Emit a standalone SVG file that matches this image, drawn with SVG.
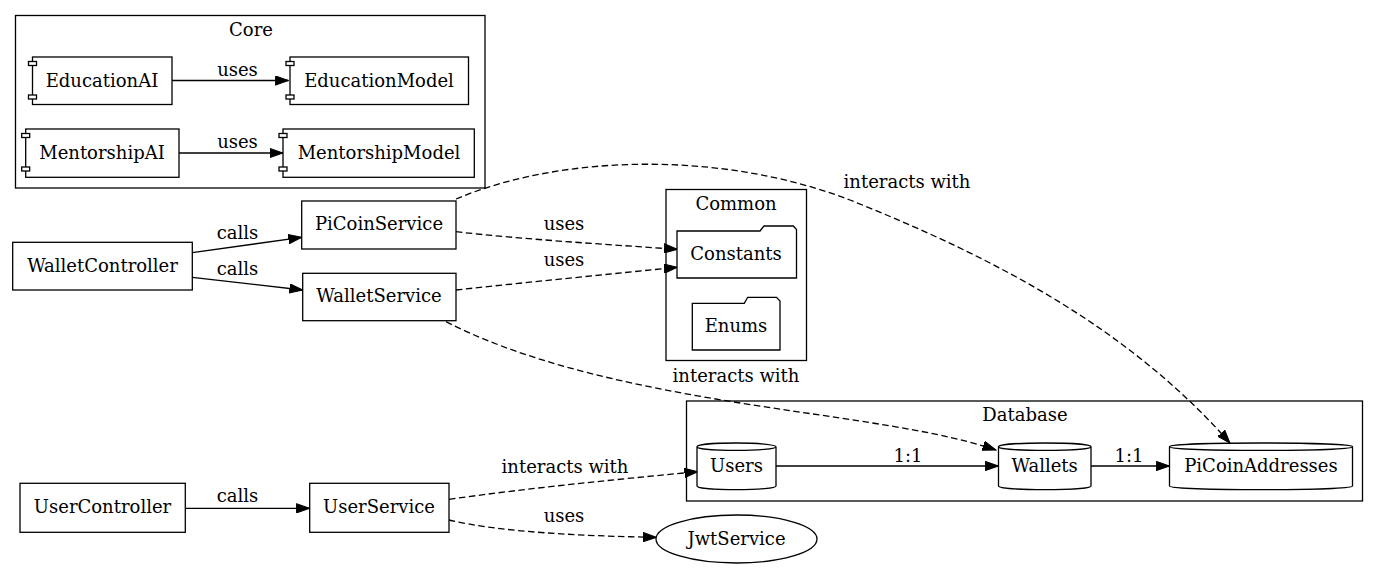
<svg xmlns="http://www.w3.org/2000/svg" width="1379" height="568" viewBox="0 0 1379 568">
<style>
text{font-family:"DejaVu Serif","Liberation Serif",serif;font-size:18px;fill:#000;text-anchor:middle}
.n{fill:#fff;stroke:#000;stroke-width:1.3}
.cl{fill:none;stroke:#000;stroke-width:1.3}
.e{fill:none;stroke:#000;stroke-width:1.3;marker-end:url(#ah)}
.d{stroke-dasharray:6.5,3.5}
</style>
<defs>
<marker id="ah" markerWidth="14" markerHeight="10" refX="13.3" refY="5" orient="auto" markerUnits="userSpaceOnUse">
<path d="M0,0.33 L13.3,5 L0,9.67 Z" fill="#000" stroke="#000" stroke-width="1" stroke-dasharray="none"/>
</marker>
</defs>
<rect width="1379" height="568" fill="#fff"/>

<g id="cluster-core">
<rect class="cl" x="15.5" y="15.5" width="469.5" height="172.5"/>
<text x="251" y="35.5">Core</text>
</g>
<g id="cluster-common">
<rect class="cl" x="666" y="189.5" width="140.5" height="171"/>
<text x="736" y="209.5">Common</text>
</g>
<g id="cluster-database">
<rect class="cl" x="686.5" y="401" width="676" height="100"/>
<text x="1025" y="421">Database</text>
</g>

<g id="connectors">
<path class="e" d="M172,80.5 L288.5,80.5"/>
<text x="237.5" y="76">uses</text>
<path class="e" d="M179,153 L283,153"/>
<text x="237.5" y="148">uses</text>
<path class="e" d="M192.3,252.7 L301.7,237.3"/>
<text x="237.5" y="239">calls</text>
<path class="e" d="M192.3,277.3 L302.7,290"/>
<text x="237.5" y="275">calls</text>
<path class="e" d="M185.3,508.3 L309.7,508.3"/>
<text x="237.5" y="502">calls</text>
<path class="e d" d="M456,231.7 C520,239 600,244 677.3,249.3"/>
<text x="564" y="230">uses</text>
<path class="e d" d="M456,290 C530,282 610,274 677.3,267.3"/>
<text x="564" y="266">uses</text>
<path class="e d" d="M456,199 C560,155 720,150 850,200 C1000,260 1130,330 1230,443"/>
<text x="907" y="188">interacts with</text>
<path class="e d" d="M446,321.7 C560,380 720,400 840,418 C920,430 960,438 996,450"/>
<text x="736" y="382">interacts with</text>
<path class="e d" d="M449,499.3 C530,488 610,480 697.7,471.7"/>
<text x="565" y="473">interacts with</text>
<path class="e d" d="M449,520 C500,532 580,536 656.4,537.3"/>
<text x="564" y="522">uses</text>
<path class="e" d="M776,466 L998.5,466"/>
<text x="908" y="462">1:1</text>
<path class="e" d="M1091,466 L1169.5,466"/>
<text x="1129" y="462">1:1</text>
</g>

<g id="node-EducationAI">
<rect class="n" x="32.5" y="57" width="139.5" height="47.5"/>
<rect class="n" x="28.5" y="61.5" width="8" height="4"/>
<rect class="n" x="28.5" y="95" width="8" height="4"/>
<text x="102" y="86.5">EducationAI</text>
</g>
<g id="node-EducationModel">
<rect class="n" x="290" y="57" width="178.5" height="47.5"/>
<rect class="n" x="286" y="61.5" width="8" height="4"/>
<rect class="n" x="286" y="95" width="8" height="4"/>
<text x="379" y="86.5">EducationModel</text>
</g>
<g id="node-MentorshipAI">
<rect class="n" x="25.7" y="129" width="153.3" height="48.3"/>
<rect class="n" x="21.7" y="133.5" width="8" height="4"/>
<rect class="n" x="21.7" y="167" width="8" height="4"/>
<text x="102" y="159">MentorshipAI</text>
</g>
<g id="node-MentorshipModel">
<rect class="n" x="283" y="129" width="191.3" height="48.3"/>
<rect class="n" x="279" y="133.5" width="8" height="4"/>
<rect class="n" x="279" y="167" width="8" height="4"/>
<text x="379" y="159">MentorshipModel</text>
</g>

<g id="node-Constants">
<path class="n" d="M677,231 L760,231 L764,226 L793.3,226 L796.5,229.5 L796.5,278 L677,278 Z"/>
<text x="736" y="260">Constants</text>
</g>
<g id="node-Enums">
<path class="n" d="M692.3,303.3 L744.3,303.3 L747.7,297.3 L776.5,297.3 L780,301 L780,350 L692.3,350 Z"/>
<text x="736" y="331.7">Enums</text>
</g>

<g id="node-WalletController">
<rect class="n" x="12.7" y="242.3" width="179.6" height="47.7"/>
<text x="102.5" y="271.7">WalletController</text>
</g>
<g id="node-PiCoinService">
<rect class="n" x="301.7" y="201" width="154.3" height="48"/>
<text x="379" y="230">PiCoinService</text>
</g>
<g id="node-WalletService">
<rect class="n" x="302.7" y="273.3" width="153.3" height="47.4"/>
<text x="379" y="302">WalletService</text>
</g>
<g id="node-UserController">
<rect class="n" x="20" y="483.3" width="165.3" height="49"/>
<text x="102.5" y="513.3">UserController</text>
</g>
<g id="node-UserService">
<rect class="n" x="309.7" y="483.3" width="139.3" height="49"/>
<text x="379" y="513.3">UserService</text>
</g>
<g id="node-JwtService">
<ellipse class="n" cx="736.5" cy="539" rx="80.5" ry="24"/>
<text x="736.5" y="544.5">JwtService</text>
</g>

<g id="node-Users">
<path class="n" d="M697,446.7 A39.5,3.7 0 0 1 776,446.7 L776,486 A39.5,3.7 0 0 1 697,486 Z M697,446.7 A39.5,3.7 0 0 0 776,446.7"/>
<text x="736.5" y="471.5">Users</text>
</g>
<g id="node-Wallets">
<path class="n" d="M998.5,446.7 A46.25,3.7 0 0 1 1091,446.7 L1091,486 A46.25,3.7 0 0 1 998.5,486 Z M998.5,446.7 A46.25,3.7 0 0 0 1091,446.7"/>
<text x="1044.7" y="471.5">Wallets</text>
</g>
<g id="node-PiCoinAddresses">
<path class="n" d="M1169.5,446.7 A91.5,3.7 0 0 1 1352.5,446.7 L1352.5,486 A91.5,3.7 0 0 1 1169.5,486 Z M1169.5,446.7 A91.5,3.7 0 0 0 1352.5,446.7"/>
<text x="1261" y="471.5">PiCoinAddresses</text>
</g>
</svg>
